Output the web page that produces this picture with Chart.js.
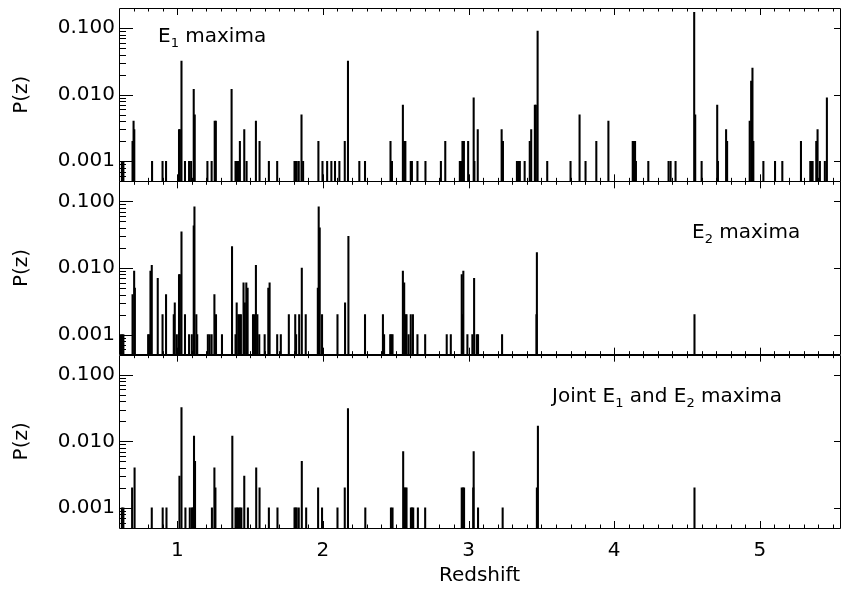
<!DOCTYPE html>
<html>
<head>
<meta charset="utf-8">
<script src="https://cdn.jsdelivr.net/npm/chart.js@4.4.0/dist/chart.umd.min.js"></script>
<style>
  html, body { margin: 0; padding: 0; background: #fff; }
</style>
</head>
<body>
<canvas id="chart" width="842" height="590"></canvas>
<script>
// axis ranges and tick labels
const Z_MIN = 0.6;
const Z_MAX = 5.55;
const P_MIN = 0.0005;
const P_MAX = 0.2;
const xTicks = [1, 2, 3, 4, 5];
const yTicks = [0.001, 0.01, 0.1];

// E1 maxima (top panel)
const e1Z = [0.620, 0.630, 0.693, 0.700, 0.705, 0.827, 0.899, 0.923, 1.012, 1.018,
  1.029, 1.053, 1.081, 1.095, 1.113, 1.120, 1.207, 1.236, 1.257, 1.265,
  1.373, 1.400, 1.408, 1.415, 1.422, 1.430, 1.460, 1.476, 1.540, 1.565,
  1.629, 1.686, 1.805, 1.812, 1.820, 1.834, 1.853, 1.864, 1.969, 1.997,
  2.029, 2.058, 2.083, 2.113, 2.150, 2.172, 2.250, 2.289, 2.464, 2.474,
  2.549, 2.558, 2.566, 2.603, 2.611, 2.649, 2.704, 2.810, 2.840, 2.940,
  2.948, 2.958, 2.968, 2.997, 3.035, 3.040, 3.063, 3.227, 3.236, 3.332,
  3.342, 3.352, 3.385, 3.420, 3.430, 3.455, 3.462, 3.474, 3.540, 3.700,
  3.762, 3.803, 3.877, 3.960, 4.127, 4.135, 4.143, 4.149, 4.234, 4.373,
  4.387, 4.421, 4.549, 4.556, 4.600, 4.707, 4.712, 4.768, 4.775, 4.930,
  4.940, 4.949, 4.955, 5.024, 5.104, 5.154, 5.282, 5.346, 5.354, 5.362,
  5.387, 5.396, 5.412, 5.446, 5.460];
const e1P = [0.001, 0.001, 0.002, 0.004, 0.003, 0.001, 0.001, 0.001, 0.003, 0.003,
  0.032, 0.001, 0.001, 0.001, 0.012, 0.005, 0.001, 0.001, 0.004, 0.004,
  0.012, 0.001, 0.001, 0.001, 0.001, 0.002, 0.003, 0.001, 0.004, 0.002,
  0.001, 0.001, 0.001, 0.001, 0.001, 0.001, 0.005, 0.001, 0.002, 0.001,
  0.001, 0.001, 0.001, 0.001, 0.002, 0.032, 0.001, 0.001, 0.002, 0.001,
  0.007, 0.002, 0.002, 0.001, 0.001, 0.001, 0.001, 0.001, 0.002, 0.001,
  0.001, 0.002, 0.002, 0.002, 0.009, 0.001, 0.003, 0.003, 0.002, 0.001,
  0.001, 0.001, 0.001, 0.002, 0.003, 0.007, 0.007, 0.090, 0.001, 0.001,
  0.005, 0.001, 0.002, 0.004, 0.002, 0.002, 0.002, 0.001, 0.001, 0.001,
  0.001, 0.001, 0.172, 0.005, 0.001, 0.007, 0.001, 0.003, 0.002, 0.004,
  0.016, 0.025, 0.002, 0.001, 0.001, 0.001, 0.002, 0.001, 0.001, 0.001,
  0.002, 0.003, 0.001, 0.001, 0.009];

// E2 maxima (middle panel)
const e2Z = [0.610, 0.620, 0.630, 0.693, 0.704, 0.709, 0.800, 0.808, 0.816, 0.825,
  0.866, 0.899, 0.923, 0.976, 0.983, 0.997, 1.012, 1.018, 1.029, 1.053,
  1.081, 1.100, 1.113, 1.118, 1.131, 1.137, 1.210, 1.222, 1.236, 1.255,
  1.266, 1.307, 1.376, 1.400, 1.408, 1.419, 1.428, 1.437, 1.455, 1.464,
  1.474, 1.483, 1.520, 1.530, 1.540, 1.550, 1.563, 1.600, 1.625, 1.634,
  1.686, 1.711, 1.766, 1.810, 1.816, 1.837, 1.855, 1.882, 1.965, 1.971,
  1.978, 1.994, 2.100, 2.152, 2.175, 2.289, 2.412, 2.420, 2.462, 2.470,
  2.478, 2.549, 2.558, 2.567, 2.574, 2.588, 2.603, 2.618, 2.649, 2.702,
  2.850, 2.878, 2.953, 2.959, 2.964, 2.992, 3.026, 3.038, 3.056, 3.065,
  3.230, 3.466, 3.469, 4.551];
const e2P = [0.001, 0.001, 0.001, 0.004, 0.009, 0.005, 0.001, 0.001, 0.009, 0.011,
  0.007, 0.002, 0.004, 0.002, 0.003, 0.001, 0.008, 0.008, 0.035, 0.002,
  0.001, 0.001, 0.043, 0.083, 0.002, 0.001, 0.001, 0.001, 0.001, 0.004,
  0.002, 0.001, 0.021, 0.001, 0.003, 0.002, 0.002, 0.002, 0.006, 0.003,
  0.006, 0.005, 0.002, 0.002, 0.011, 0.002, 0.001, 0.001, 0.005, 0.006,
  0.001, 0.001, 0.002, 0.002, 0.001, 0.002, 0.010, 0.002, 0.005, 0.083,
  0.040, 0.002, 0.002, 0.003, 0.030, 0.002, 0.002, 0.001, 0.001, 0.001,
  0.001, 0.009, 0.006, 0.002, 0.002, 0.001, 0.002, 0.002, 0.001, 0.001,
  0.001, 0.001, 0.008, 0.002, 0.009, 0.001, 0.001, 0.007, 0.001, 0.001,
  0.001, 0.002, 0.017, 0.002];

// joint E1 and E2 maxima (bottom panel)
const jointZ = [0.620, 0.630, 0.690, 0.707, 0.825, 0.900, 0.926, 1.015, 1.029, 1.056,
  1.086, 1.100, 1.106, 1.115, 1.122, 1.238, 1.255, 1.262, 1.378, 1.400,
  1.410, 1.420, 1.430, 1.440, 1.460, 1.485, 1.542, 1.565, 1.629, 1.688,
  1.805, 1.812, 1.820, 1.834, 1.855, 1.885, 1.967, 1.994, 2.100, 2.150,
  2.172, 2.291, 2.467, 2.478, 2.551, 2.558, 2.566, 2.574, 2.604, 2.612,
  2.620, 2.652, 2.702, 2.953, 2.961, 2.969, 3.032, 3.035, 3.065, 3.234,
  3.469, 3.476, 4.551];
const jointP = [0.001, 0.001, 0.002, 0.004, 0.001, 0.001, 0.001, 0.003, 0.032, 0.001,
  0.001, 0.001, 0.001, 0.012, 0.005, 0.001, 0.004, 0.002, 0.012, 0.001,
  0.001, 0.001, 0.001, 0.001, 0.003, 0.001, 0.004, 0.002, 0.001, 0.001,
  0.001, 0.001, 0.001, 0.001, 0.005, 0.001, 0.002, 0.001, 0.001, 0.002,
  0.031, 0.001, 0.001, 0.001, 0.007, 0.002, 0.002, 0.002, 0.001, 0.001,
  0.001, 0.001, 0.001, 0.002, 0.002, 0.002, 0.002, 0.007, 0.001, 0.001,
  0.002, 0.017, 0.002];

// panel captions, split into [text, isSubscript]
const captionTop = [['E', false], ['1', true], [' maxima', false]];
const captionMid = [['E', false], ['2', true], [' maxima', false]];
const captionBot = [['Joint E', false], ['1', true], [' and E', false], ['2', true], [' maxima', false]];

const FONT = 'DejaVu Sans';
const PANELS = ['yTop', 'yMid', 'yBot'];

function spikes(zs, ps, axisId) {
  return {
    type: 'bar',
    data: zs.map((z, i) => ({ x: z, y: ps[i] })),
    yAxisID: axisId,
    backgroundColor: '#000',
    borderWidth: 0,
    barThickness: 1.4,
    grouped: false,
  };
}

function panelAxis() {
  return {
    type: 'logarithmic',
    position: 'left',
    stack: 'panels',
    stackWeight: 1,
    min: P_MIN,
    max: P_MAX,
    grid: { display: false, drawTicks: false },
    border: { display: false },
    afterBuildTicks: (s) => { s.ticks = yTicks.map((v) => ({ value: v })); },
    afterFit: (s) => {
      s.width = 119;
      s.paddingTop = 0;
      s.paddingBottom = 0;
    },
    ticks: {
      color: '#000',
      font: { family: FONT, size: 20 },
      padding: 4,
      autoSkip: false,
      callback: (v) => Number(v).toFixed(3),
    },
    title: {
      display: true,
      text: 'P(z)',
      color: '#000',
      font: { family: FONT, size: 20 },
      padding: { top: 10, bottom: 0 },
    },
  };
}

function crisp(v) {
  return Math.round(v) + 0.5;
}

function drawCaption(ctx, parts, x, y) {
  let cx = x;
  parts.forEach(([text, sub]) => {
    ctx.font = (sub ? 13 : 20) + 'px "' + FONT + '"';
    ctx.fillText(text, cx, sub ? y + 5 : y);
    cx += ctx.measureText(text).width;
  });
}

// frames, inward ticks and captions drawn over the spikes
const framePlugin = {
  id: 'frames',
  afterDatasetsDraw(chart) {
    const ctx = chart.ctx;
    const xs = chart.scales.x;
    const left = chart.chartArea.left;
    const right = chart.chartArea.right;
    ctx.save();
    ctx.strokeStyle = '#000';
    ctx.lineWidth = 1;
    ctx.beginPath();
    PANELS.forEach((id) => {
      const ys = chart.scales[id];
      const top = ys.top;
      const bot = ys.bottom;
      ctx.rect(crisp(left), crisp(top), Math.round(right - left), Math.round(bot - top));
      for (let i = 6; i <= 55; i++) {
        const z = i / 10;
        if (z <= Z_MIN || z >= Z_MAX) continue;
        const x = crisp(xs.getPixelForValue(z));
        const len = i % 10 === 0 ? 7 : 3.5;
        ctx.moveTo(x, top);
        ctx.lineTo(x, top + len);
        ctx.moveTo(x, bot);
        ctx.lineTo(x, bot - len);
      }
      for (let e = -4; e <= -1; e++) {
        for (let m = 1; m <= 9; m++) {
          const v = m * Math.pow(10, e);
          if (v <= P_MIN * 1.0001 || v >= P_MAX * 0.9999) continue;
          const y = crisp(ys.getPixelForValue(v));
          const major = m === 1;
          ctx.moveTo(left, y);
          ctx.lineTo(left + (major ? 14 : 7), y);
          if (major) {
            ctx.moveTo(right, y);
            ctx.lineTo(right - 6, y);
          }
        }
      }
    });
    ctx.stroke();

    ctx.fillStyle = '#000';
    ctx.textBaseline = 'alphabetic';
    ctx.textAlign = 'left';
    drawCaption(ctx, captionTop, 158, chart.scales.yTop.top + 34);
    drawCaption(ctx, captionMid, 692, chart.scales.yMid.top + 57);
    drawCaption(ctx, captionBot, 552, chart.scales.yBot.top + 47);
    ctx.restore();
  },
};

new Chart(document.getElementById('chart'), {
  type: 'bar',
  data: {
    datasets: [
      spikes(e1Z, e1P, 'yTop'),
      spikes(e2Z, e2P, 'yMid'),
      spikes(jointZ, jointP, 'yBot'),
    ],
  },
  options: {
    responsive: false,
    animation: false,
    events: [],
    layout: { padding: { left: 0, right: 2, top: 8, bottom: 0 } },
    plugins: { legend: { display: false }, tooltip: { enabled: false } },
    scales: {
      x: {
        type: 'linear',
        min: Z_MIN,
        max: Z_MAX,
        offset: false,
        grid: { display: false, drawTicks: false },
        border: { display: false },
        afterBuildTicks: (s) => { s.ticks = xTicks.map((v) => ({ value: v })); },
        afterFit: (s) => { s.height = 62; },
        ticks: {
          color: '#000',
          font: { family: FONT, size: 20 },
          padding: 11,
          maxRotation: 0,
          autoSkip: false,
          callback: (v) => String(v),
        },
        title: {
          display: true,
          text: 'Redshift',
          color: '#000',
          font: { family: FONT, size: 20 },
          padding: { top: 0, bottom: 2 },
        },
      },
      // stacked left axes are laid out last-defined on top
      yBot: panelAxis(),
      yMid: panelAxis(),
      yTop: panelAxis(),
    },
  },
  plugins: [framePlugin],
});
</script>
</body>
</html>
